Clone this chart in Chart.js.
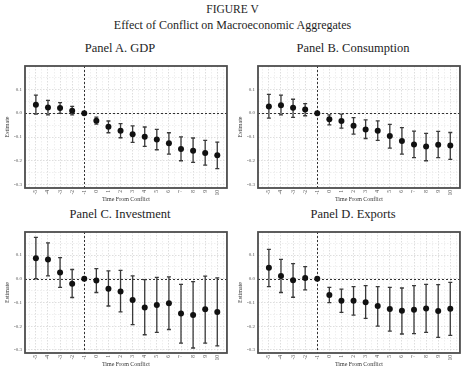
<!DOCTYPE html>
<html>
<head>
<meta charset="utf-8">
<script src="https://cdn.jsdelivr.net/npm/chart.js@4.4.1/dist/chart.umd.min.js"></script>
<style>
  body { margin: 0; width: 465px; height: 369px; overflow: hidden; position: relative; background: #fff;
         font-family: "Liberation Serif", "Times New Roman", serif; color: #1e1e1e; }
  .head { position: absolute; left: 0; width: 465px; text-align: center; white-space: nowrap; }
  .panel { position: absolute; width: 232px; text-align: center; font-size: 12.5px; white-space: nowrap; }
  canvas { position: absolute; }
</style>
</head>
<body>
<div class="head" style="top:3px;font-size:11.5px">FIGURE V</div>
<div class="head" style="top:18px;font-size:12px">Effect of Conflict on Macroeconomic Aggregates</div>
<div class="panel" style="left:4px;top:41px">Panel A. GDP</div>
<div class="panel" style="left:237px;top:41px">Panel B. Consumption</div>
<div class="panel" style="left:4px;top:207px">Panel C. Investment</div>
<div class="panel" style="left:237px;top:207px">Panel D. Exports</div>

<canvas id="gdp" width="232" height="146" style="left:0;top:58px"></canvas>
<canvas id="cons" width="232" height="146" style="left:233px;top:58px"></canvas>
<canvas id="inv" width="232" height="145" style="left:0;top:224px"></canvas>
<canvas id="exp" width="232" height="145" style="left:233px;top:224px"></canvas>

<script>
// event time relative to conflict onset (-1 is the omitted base period)
const periods = [-5, -4, -3, -2, -1, 0, 1, 2, 3, 4, 5, 6, 7, 8, 9, 10];

const gdpEst  = [0.035, 0.024, 0.021, 0.010, 0, -0.032, -0.057, -0.074, -0.088, -0.099, -0.110, -0.126, -0.150, -0.157, -0.167, -0.176];
const gdpLow  = [-0.004, -0.007, -0.001, -0.007, null, -0.046, -0.082, -0.103, -0.122, -0.139, -0.153, -0.171, -0.199, -0.206, -0.217, -0.232];
const gdpHigh = [0.075, 0.053, 0.044, 0.028, null, -0.017, -0.033, -0.044, -0.053, -0.058, -0.068, -0.082, -0.099, -0.104, -0.114, -0.121];

const consEst  = [0.028, 0.033, 0.022, 0.015, 0, -0.026, -0.033, -0.053, -0.068, -0.074, -0.096, -0.117, -0.131, -0.140, -0.132, -0.135];
const consLow  = [-0.021, -0.007, -0.018, -0.011, null, -0.049, -0.063, -0.088, -0.106, -0.114, -0.146, -0.171, -0.186, -0.199, -0.186, -0.193];
const consHigh = [0.078, 0.075, 0.058, 0.040, null, -0.007, -0.004, -0.019, -0.028, -0.032, -0.047, -0.061, -0.075, -0.085, -0.076, -0.081];

const invEst  = [0.086, 0.081, 0.026, -0.021, 0, -0.007, -0.042, -0.054, -0.090, -0.121, -0.111, -0.103, -0.147, -0.153, -0.129, -0.140];
const invLow  = [0.000, 0.012, -0.036, -0.079, null, -0.058, -0.115, -0.140, -0.193, -0.236, -0.226, -0.214, -0.271, -0.292, -0.271, -0.283];
const invHigh = [0.174, 0.151, 0.089, 0.039, null, 0.043, 0.033, 0.035, 0.012, -0.004, 0.006, 0.008, -0.024, -0.012, 0.011, 0.004];

const expEst  = [0.046, 0.012, -0.006, 0.003, 0, -0.069, -0.093, -0.093, -0.099, -0.115, -0.128, -0.135, -0.131, -0.125, -0.136, -0.126];
const expLow  = [-0.033, -0.058, -0.078, -0.047, null, -0.101, -0.142, -0.153, -0.167, -0.200, -0.221, -0.233, -0.231, -0.226, -0.247, -0.239];
const expHigh = [0.124, 0.082, 0.064, 0.051, null, -0.036, -0.044, -0.033, -0.029, -0.033, -0.036, -0.039, -0.029, -0.024, -0.025, -0.015];

Chart.defaults.font.family = "'Liberation Serif', 'Times New Roman', serif";

// grid lines every half period and every 0.05
const xGrid = [];
for (let i = -11; i <= 21; i++) xGrid.push(i / 2);
const yGrid = [];
for (let i = -6; i <= 3; i++) yGrid.push(i * 0.05);

// dashed reference lines, then the confidence intervals under the points
const intervals = {
  id: "intervals",
  beforeDatasetsDraw(chart) {
    const { ctx, chartArea, scales: { x, y } } = chart;
    ctx.save();
    ctx.strokeStyle = "#333";
    ctx.lineWidth = 1;
    ctx.setLineDash([2, 2]);
    const x0 = Math.round(x.getPixelForValue(-1)) + 0.5;
    const y0 = Math.round(y.getPixelForValue(0)) + 0.5;
    ctx.beginPath();
    ctx.moveTo(x0, chartArea.top);
    ctx.lineTo(x0, chartArea.bottom);
    ctx.moveTo(chartArea.left, y0);
    ctx.lineTo(chartArea.right, y0);
    ctx.stroke();
    ctx.setLineDash([]);

    ctx.strokeStyle = "#3a3a3a";
    ctx.lineWidth = 1.3;
    chart.data.datasets[0].data.forEach((p) => {
      if (p.lo == null) return;
      const px = x.getPixelForValue(p.x);
      const top = y.getPixelForValue(p.hi);
      const bot = y.getPixelForValue(p.lo);
      ctx.beginPath();
      ctx.moveTo(px, top);
      ctx.lineTo(px, bot);
      ctx.moveTo(px - 2, top);
      ctx.lineTo(px + 2, top);
      ctx.moveTo(px - 2, bot);
      ctx.lineTo(px + 2, bot);
      ctx.stroke();
    });
    ctx.restore();
  },
  afterDraw(chart) {
    const { ctx, chartArea: a } = chart;
    ctx.save();
    ctx.strokeStyle = "#4d4d4d";
    ctx.lineWidth = 1.8;
    ctx.strokeRect(a.left, a.top, a.right - a.left, a.bottom - a.top);
    ctx.restore();
  },
};

function makePanel(id, est, low, high) {
  const points = periods.map((p, i) => ({ x: p, y: est[i], lo: low[i], hi: high[i] }));
  return new Chart(document.getElementById(id), {
    type: "scatter",
    data: {
      datasets: [{
        data: points,
        pointRadius: 3,
        pointBackgroundColor: "#111",
        pointBorderColor: "#111",
        pointBorderWidth: 0,
      }],
    },
    options: {
      responsive: false,
      animation: false,
      layout: { padding: { top: 8, right: 1, left: 0, bottom: 0 } },
      plugins: { legend: { display: false }, tooltip: { enabled: false } },
      scales: {
        x: {
          type: "linear",
          min: -5.9,
          max: 10.8,
          afterBuildTicks: (axis) => { axis.ticks = xGrid.map((v) => ({ value: v })); },
          afterFit: (axis) => { axis.height = 16; },
          ticks: {
            autoSkip: false,
            minRotation: 90,
            maxRotation: 90,
            padding: 2,
            color: "#555",
            font: { size: 5.5 },
            callback: (v) => (Number.isInteger(v) ? String(v) : ""),
          },
          grid: {
            drawTicks: false,
            lineWidth: 0.8,
            color: (c) => (Number.isInteger(c.tick.value) ? "#d6d6d6" : "#ebebeb"),
          },
          border: { display: false, dash: [1.5, 1.5] },
          title: { display: true, text: "Time From Conflict", color: "#333", font: { size: 6 }, padding: 1 },
        },
        y: {
          min: -0.313,
          max: 0.197,
          afterBuildTicks: (axis) => { axis.ticks = yGrid.map((v) => ({ value: v })); },
          afterFit: (axis) => { axis.width = 25; },
          ticks: {
            padding: 3,
            color: "#555",
            font: { size: 5 },
            callback: (v) => (Math.abs(Math.round(v * 100)) % 10 === 0 ? v.toFixed(1) : ""),
          },
          grid: {
            drawTicks: false,
            lineWidth: 0.8,
            color: (c) => (Math.abs(Math.round(c.tick.value * 100)) % 10 === 0 ? "#d6d6d6" : "#ebebeb"),
          },
          border: { display: false, dash: [1.5, 1.5] },
          title: { display: true, text: "Estimate", color: "#333", font: { size: 6 }, padding: 4 },
        },
      },
    },
    plugins: [intervals],
  });
}

makePanel("gdp", gdpEst, gdpLow, gdpHigh);
makePanel("cons", consEst, consLow, consHigh);
makePanel("inv", invEst, invLow, invHigh);
makePanel("exp", expEst, expLow, expHigh);
</script>
</body>
</html>
